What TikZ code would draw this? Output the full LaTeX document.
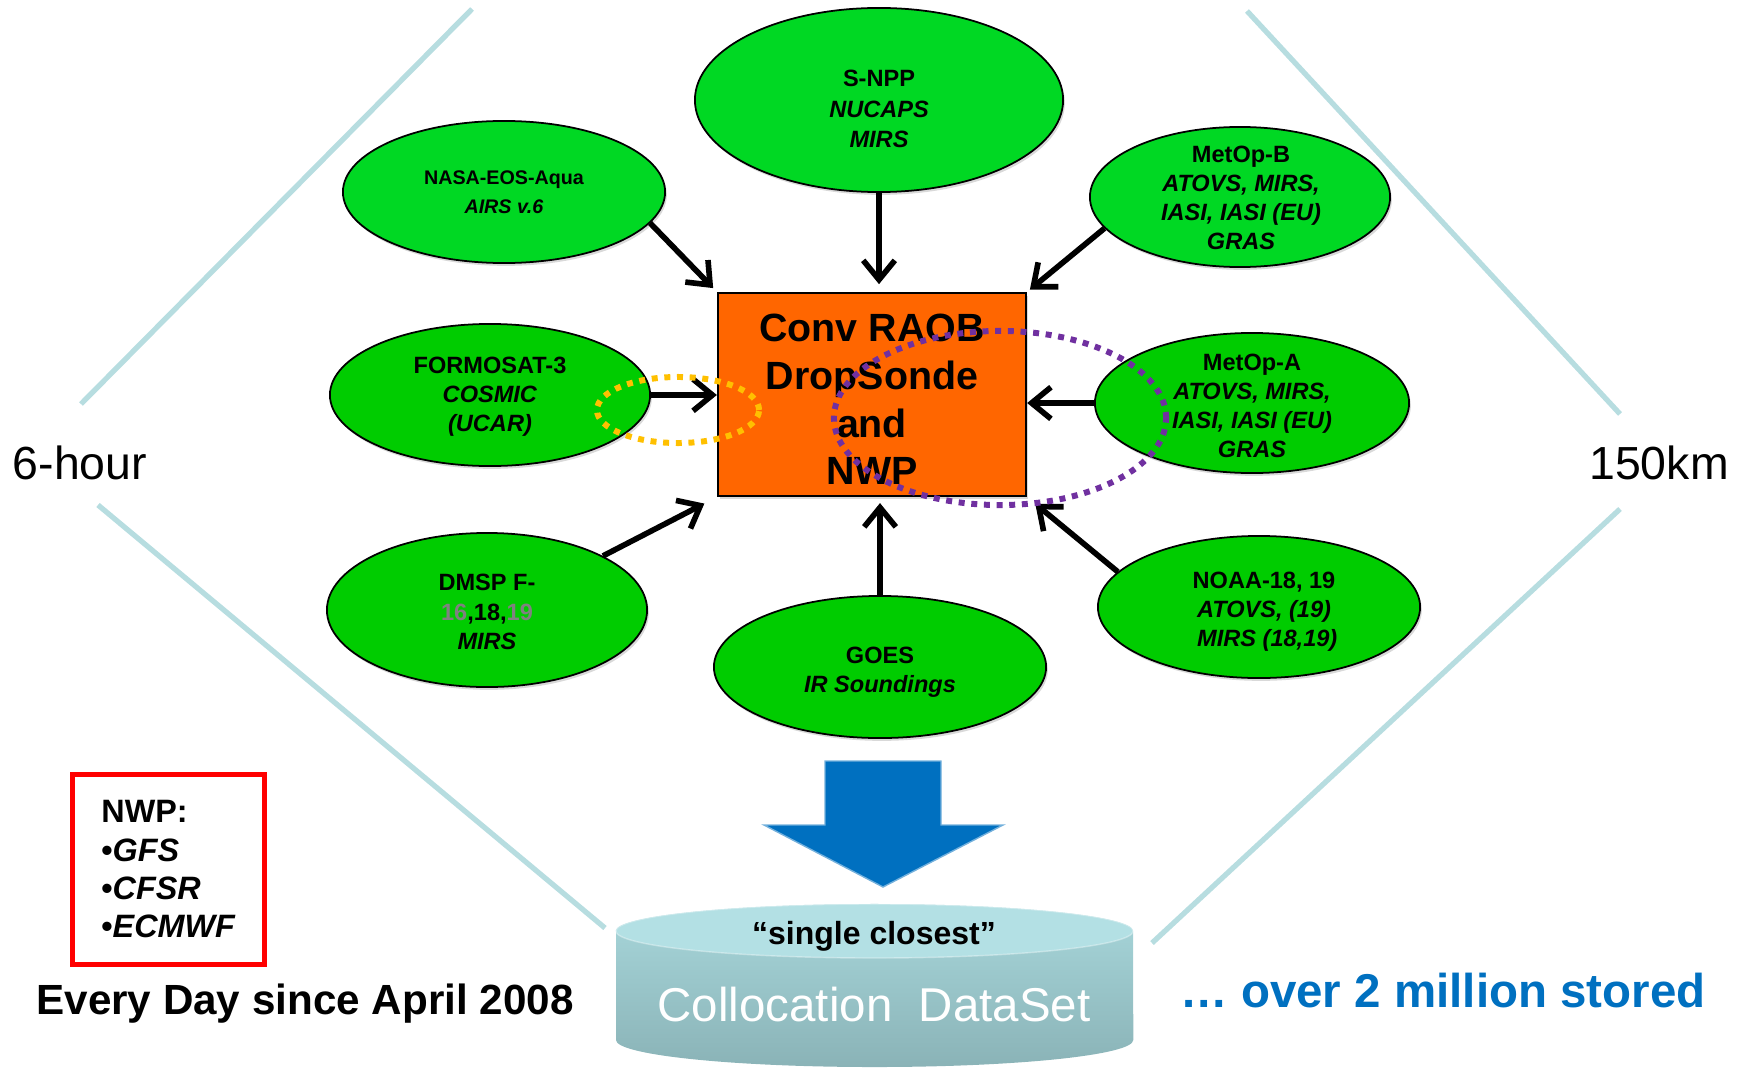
\documentclass[tikz,border=0pt]{standalone}
\usepackage{fontspec}
\setmainfont{Liberation Sans}
\usepackage{tikz}
\usetikzlibrary{arrows.meta,positioning,calc,shapes.geometric,shadows}
\definecolor{satbright}{HTML}{00D823}
\definecolor{satgreen}{HTML}{00CC00}
\definecolor{hubfill}{HTML}{FF6600}
\definecolor{guideblue}{HTML}{B7DDE0}
\definecolor{gold}{HTML}{FFC000}
\definecolor{violet}{HTML}{7030A0}
\definecolor{ocean}{HTML}{0070C0}
\definecolor{cyltop}{HTML}{B3E0E4}
\definecolor{cylhi}{HTML}{A8D7DB}
\definecolor{cyllo}{HTML}{8AB3B7}
\definecolor{dim}{HTML}{808080}

\begin{document}
\begin{tikzpicture}[x=0.01cm,y=-0.01cm,
  sat/.style={ellipse,draw=black,line width=0.5pt,fill=#1,inner sep=0pt,drop shadow={shadow xshift=0.5pt,shadow yshift=-0.8pt,opacity=0.3}},
  sat/.default=satgreen,
  lbl/.style={font=\fontsize{6.7}{8.3}\selectfont\bfseries,align=center,inner sep=0pt},
  arr/.style={line width=1.6pt,-{Straight Barb[length=5.5pt,width=9pt]}},
  hubbox/.style={draw=black,line width=0.6pt,fill=hubfill,minimum width=3.08cm,minimum height=2.03cm,inner sep=0pt,align=center,font=\fontsize{11.2}{13.6}\selectfont\bfseries,drop shadow={shadow xshift=0.5pt,shadow yshift=-0.8pt,opacity=0.3}},
  guide/.style={draw=guideblue,line width=1.5pt},
  ring/.style={line width=1.7pt,dash pattern=on 1.7pt off 1.9pt},
  side/.style={font=\fontsize{13.2}{16}\selectfont,inner sep=0pt}]
\useasboundingbox (0,0) rectangle (1746,1070);

\draw[guide] (472,9) -- (81,404);
\draw[guide] (98,505) -- (605,928);
\draw[guide] (1247,11) -- (1620,414);
\draw[guide] (1620,509) -- (1152,943);

\node[sat=satbright,minimum width=3.68cm,minimum height=1.84cm] (snpp) at (879,100) {};
\node[sat=satbright,minimum width=3.22cm,minimum height=1.42cm] (aqua) at (504,192) {};
\node[sat=satbright,minimum width=3.00cm,minimum height=1.40cm] (metopb) at (1240,197) {};
\node[sat,minimum width=3.20cm,minimum height=1.42cm] (formosat) at (490,395) {};
\node[sat,minimum width=3.14cm,minimum height=1.40cm] (metopa) at (1252,403) {};
\node[sat,minimum width=3.20cm,minimum height=1.54cm] (dmsp) at (487,610) {};
\node[sat,minimum width=3.32cm,minimum height=1.42cm] (goes) at (880,667) {};
\node[sat,minimum width=3.22cm,minimum height=1.42cm] (noaa) at (1259,607) {};

\node[lbl,font=\fontsize{6.7}{8.6}\selectfont\bfseries] (snppt) at (879,109) {S-NPP\\\textit{NUCAPS}\\\textit{MIRS}};
\node[lbl,font=\fontsize{5.6}{8.2}\selectfont\bfseries] (aquat) at (504,192) {NASA-EOS-Aqua\\\textit{AIRS v.6}};
\node[lbl] (metopbt) at (1241,198) {MetOp-B\\\textit{ATOVS, MIRS,}\\\textit{IASI, IASI (EU)}\\\textit{GRAS}};
\node[lbl] (formosatt) at (490,397) {FORMOSAT-3\\\textit{COSMIC}\\\textit{(UCAR)}};
\node[lbl] (metopat) at (1252,406) {MetOp-A\\\textit{ATOVS, MIRS,}\\\textit{IASI, IASI (EU)}\\\textit{GRAS}};
\node[lbl] (dmspt) at (487,612) {DMSP F-\\\textcolor{dim}{16},18,\textcolor{dim}{19}\\\textit{MIRS}};
\node[lbl] (goest) at (880,672) {GOES\\\textit{IR Soundings}};
\node[lbl] (noaat) at (1264,612) {NOAA-18, 19\\\textit{ATOVS, (19)}\\\textit{\ MIRS (18,19)}};

\node[hubbox] (hub) at (872,394.5) {\\[-3pt]Conv RAOB\\DropSonde\\and\\NWP};

\draw[arr,shorten >=1.5pt] (aqua.-12) -- (hub.north west);
\draw[arr,shorten >=2.2pt] (snpp.south) -- (snpp.south |- hub.north);
\draw[arr,shorten >=1pt] (metopb.-167) -- (hub.north east);
\draw[arr] (formosat.east) -- (formosat.east -| hub.west);
\draw[arr] (metopa.west) -- (metopa.west -| hub.east);
\draw[arr,shorten >=4pt] (dmsp.25) -- (hub.south west);
\draw[arr,shorten >=1.7pt] (goes.north) -- (goes.north |- hub.south);
\draw[arr,shorten >=3pt] (noaa.166) -- (hub.south east);

\draw[ring,gold] (678,410) ellipse [x radius=0.81cm,y radius=0.33cm];
\draw[ring,violet] (1000,418) ellipse [x radius=1.66cm,y radius=0.87cm];

\fill[ocean,draw=ocean!55!white,line width=0.4pt] (825,761) -- (941,761) -- (941,825) -- (1003,825) -- (883,887) -- (764,825) -- (825,825) -- cycle;

\shade[top color=cylhi,bottom color=cyllo] (616,931) -- (616,1040) arc[start angle=180,end angle=360,x radius=2.585cm,y radius=0.27cm] -- (1133,931) arc[start angle=0,end angle=180,x radius=2.585cm,y radius=0.27cm] -- cycle;
\fill[cyltop] (874.5,931) ellipse [x radius=2.585cm,y radius=0.27cm];
\draw[white,opacity=0.35,line width=0.4pt] (874.5,931) ellipse [x radius=2.585cm,y radius=0.27cm];

\node[font=\fontsize{9.1}{11}\selectfont\bfseries,inner sep=0pt] (closest) at (874,936) {“single closest”};
\node[font=\fontsize{13.5}{16}\selectfont,text=white,inner sep=0pt] (dataset) at (874,1005) {Collocation\ \ DataSet};

\node[draw=red,fill=white,line width=1.4pt,minimum width=1.91cm,minimum height=1.89cm,align=left,font=\fontsize{9.2}{10.9}\selectfont\bfseries,drop shadow={shadow xshift=0.5pt,shadow yshift=-0.8pt,opacity=0.25}] (nwp) at (168.5,869.5) {NWP:\\•\textit{GFS}\\•\textit{CFSR}\\•\textit{ECMWF}};

\node[side] (hours) at (80,463) {6-hour};
\node[side] (km) at (1659,463) {150km};
\node[font=\fontsize{12}{14}\selectfont\bfseries,inner sep=0pt] (daily) at (305,1004) {Every Day since April 2008};
\node[font=\fontsize{13.5}{16}\selectfont\bfseries,text=ocean,inner sep=0pt] (stored) at (1443,991) {… over 2 million stored};
\end{tikzpicture}
\end{document}
